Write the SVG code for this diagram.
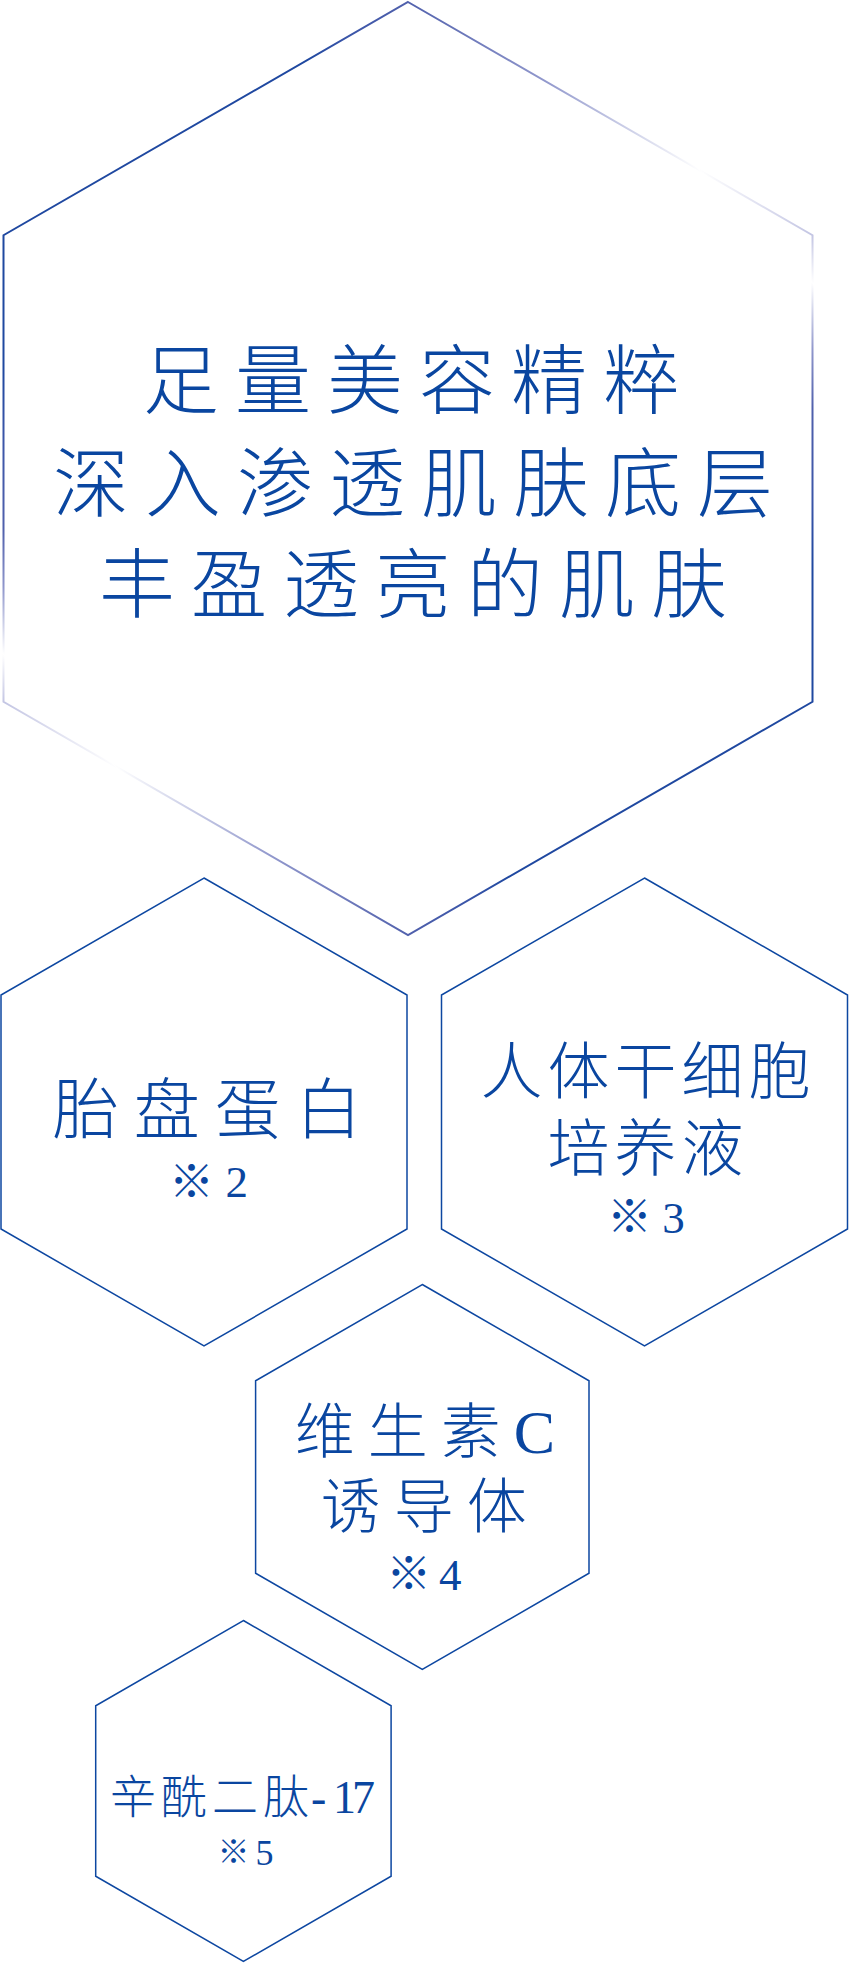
<svg xmlns="http://www.w3.org/2000/svg" width="849" height="1964" viewBox="0 0 849 1964">
  <defs>
    <linearGradient id="mainStroke" gradientUnits="userSpaceOnUse" x1="75.7" y1="800.8" x2="740.3" y2="136.2">
      <stop offset="0" stop-color="#c3c5e3"/>
      <stop offset="0.02" stop-color="#c3c5e3"/>
      <stop offset="0.056" stop-color="#ffffff"/>
      <stop offset="0.106" stop-color="#9097cc"/>
      <stop offset="0.15" stop-color="#5060ac"/>
      <stop offset="0.22" stop-color="#3a55a8"/>
      <stop offset="0.27" stop-color="#1f48a0"/>
      <stop offset="0.73" stop-color="#1f48a0"/>
      <stop offset="0.78" stop-color="#3a55a8"/>
      <stop offset="0.85" stop-color="#5060ac"/>
      <stop offset="0.894" stop-color="#9097cc"/>
      <stop offset="0.944" stop-color="#ffffff"/>
      <stop offset="0.98" stop-color="#c3c5e3"/>
      <stop offset="1" stop-color="#c3c5e3"/>
    </linearGradient>
  </defs>
  <style>
    .hex { fill: none; stroke: #0d47a1; stroke-width: 1.5; stroke-linejoin: miter; }
    .hex-main { fill: none; stroke: url(#mainStroke); stroke-width: 2; }
    .cjk { font-family: "Liberation Serif", "Noto Sans CJK SC", sans-serif; font-weight: 300; fill: #0a46a0; }
    .lat { font-family: "Liberation Serif", serif; font-weight: normal; fill: #0a46a0; }
    .title { font-size: 76px; letter-spacing: 16px; }
  </style>
  <rect width="849" height="1964" fill="#ffffff"/>

  <g id="hex-main">
    <polygon class="hex-main" points="408,2 812.5,235.25 812.5,701.75 408,935 3.5,701.75 3.5,235.25"/>
    <text class="cjk title">
      <tspan x="143" y="408">足量美容精粹</tspan>
      <tspan x="53" y="511">深入渗透肌肤底层</tspan>
      <tspan x="99" y="612">丰盈透亮的肌肤</tspan>
    </text>
  </g>

  <g id="hex-placenta">
    <polygon class="hex" points="204,878 407,995 407,1229 204,1346 1,1229 1,995"/>
    <text class="cjk">
      <tspan x="52.7" y="1132.5" font-size="66" letter-spacing="15">胎盘蛋白</tspan>
      <tspan x="169" y="1197.5" font-size="45">※</tspan><tspan class="lat" x="225.4" y="1197" font-size="45">2</tspan>
    </text>
  </g>

  <g id="hex-stemcell">
    <polygon class="hex" points="644.5,878 847.5,995 847.5,1229 644.5,1346 441.5,1229 441.5,995"/>
    <text class="cjk">
      <tspan x="480.4" y="1094" font-size="62" letter-spacing="5">人体干细胞</tspan>
      <tspan x="547.5" y="1171" font-size="62" letter-spacing="5">培养液</tspan>
      <tspan x="607" y="1233" font-size="45">※</tspan><tspan class="lat" x="662.3" y="1233" font-size="45">3</tspan>
    </text>
  </g>

  <g id="hex-vitaminc">
    <polygon class="hex" points="422.3,1284.5 589,1380.75 589,1573.25 422.3,1669.5 255.6,1573.25 255.6,1380.75"/>
    <text class="cjk">
      <tspan x="294.8" y="1453" font-size="60" letter-spacing="13">维生素</tspan><tspan class="lat" font-size="62">C</tspan>
      <tspan x="320.8" y="1528" font-size="60" letter-spacing="13">诱导体</tspan>
      <tspan x="386.2" y="1590" font-size="45">※</tspan><tspan class="lat" x="439" y="1590" font-size="45">4</tspan>
    </text>
  </g>

  <g id="hex-peptide">
    <polygon class="hex" points="243.4,1620.5 391.1,1705.75 391.1,1876.25 243.4,1961.5 95.7,1876.25 95.7,1705.75"/>
    <text class="cjk">
      <tspan x="110" y="1813" font-size="46" letter-spacing="5">辛酰二肽</tspan><tspan class="lat" font-size="46" x="311 333 352" y="1813">-17</tspan>
      <tspan x="217.4" y="1863" font-size="32">※</tspan><tspan class="lat" x="255.5" y="1865" font-size="36">5</tspan>
    </text>
  </g>
</svg>
